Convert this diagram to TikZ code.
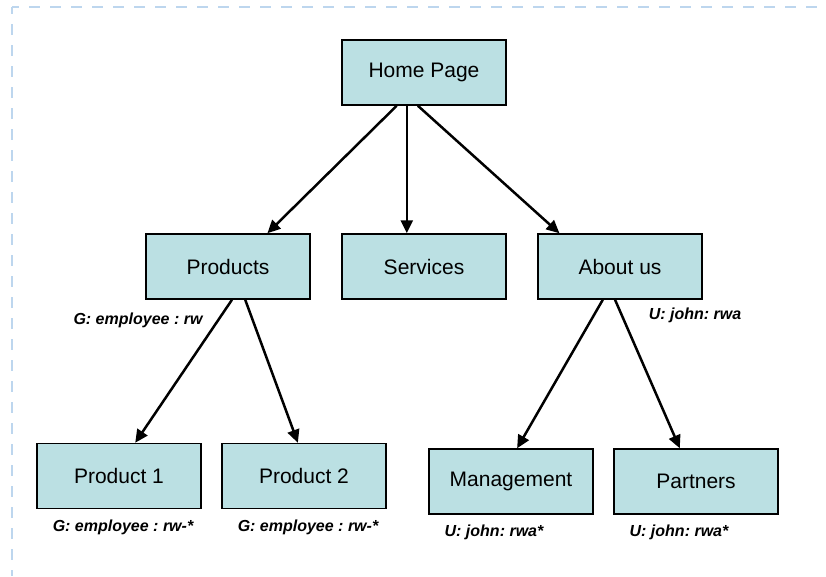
\documentclass[tikz,border=0pt]{standalone}
\usepackage{fontspec}
\setmainfont{Liberation Sans}
\usetikzlibrary{arrows.meta,calc}
\definecolor{boxfill}{RGB}{187,224,227}
\definecolor{frameblue}{RGB}{189,214,238}
\frenchspacing
\begin{document}
\begin{tikzpicture}[x=1pt,y=-1pt,
  page/.style={draw=black,line width=1.5pt,fill=boxfill,minimum width=164pt,minimum height=65pt,inner sep=0pt,font=\fontsize{21}{24}\selectfont},
  perm/.style={inner sep=0pt,font=\fontsize{16}{19}\selectfont\bfseries\itshape},
  link/.style={line width=2.5pt,-{Triangle[length=13pt,width=12pt]}}]
\useasboundingbox (0,0) rectangle (826,576);
\draw[frameblue,line width=1.5pt,dash pattern=on 11pt off 10pt,dash phase=4pt] (12,7) -- (826,7);
\draw[frameblue,line width=1.5pt,dash pattern=on 11pt off 10pt,dash phase=4pt] (12,7) -- (12,576);

\node[page] (hp) at (424,72.5) {Home Page};
\node[page] (prod) at (228,266.5) {Products};
\node[page] (serv) at (424,266.5) {Services};
\node[page] (about) at (620,266.5) {About us};
\node[page] (p1) at (119,476) {Product 1};
\node[page] (p2) at (304,476) {Product 2};
\node[page] (mgmt) at (511,481.5) {Management};
\node[page] (part) at (696,481.5) {Partners};

\node[perm] (lprod) at (138,320) {G: employee : rw};
\node[perm] (labout) at (695,315) {U: john: rwa};
\node[perm] (lp1) at (123,527) {G: employee : rw-*};
\node[perm] (lp2) at (308,527) {G: employee : rw-*};
\node[perm] (lmgmt) at (494,532) {U: john: rwa*};
\node[perm] (lpart) at (679,532) {U: john: rwa*};

\draw[link] ($(hp.south west)!0.335!(hp.south east)$) -- ($(prod.north west)!0.738!(prod.north east)$);
\draw[link] ($(hp.south west)!0.396!(hp.south east)$) -- ($(serv.north west)!0.396!(serv.north east)$);
\draw[link] ($(hp.south west)!0.463!(hp.south east)$) -- ($(about.north west)!0.134!(about.north east)$);
\draw[link] ($(prod.south west)!0.524!(prod.south east)$) -- ($(p1.north west)!0.598!(p1.north east)$);
\draw[link] ($(prod.south west)!0.604!(prod.south east)$) -- ($(p2.north west)!0.463!(p2.north east)$);
\draw[link] ($(about.south west)!0.396!(about.south east)$) -- ($(mgmt.north west)!0.537!(mgmt.north east)$);
\draw[link] ($(about.south west)!0.470!(about.south east)$) -- ($(part.north west)!0.402!(part.north east)$);
\end{tikzpicture}
\end{document}
